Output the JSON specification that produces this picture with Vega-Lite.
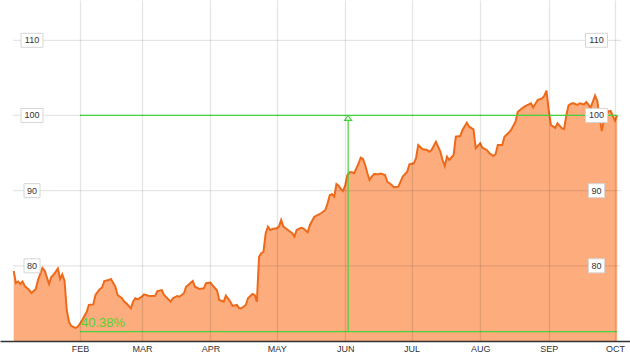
{
  "$schema": "https://vega.github.io/schema/vega-lite/v6.json",
  "width": 630,
  "height": 341,
  "padding": {"left": 0, "top": 0, "right": 0, "bottom": 19},
  "autosize": {"type": "none"},
  "config": {"view": {"stroke": null}, "font": "Liberation Sans"},
  "datasets": {
    "price": [
      {"date": "2013-01-02", "v": 79.31}, {"date": "2013-01-03", "v": 77.72}, {"date": "2013-01-04", "v": 77.92},
      {"date": "2013-01-05", "v": 77.58}, {"date": "2013-01-06", "v": 77.92}, {"date": "2013-01-07", "v": 77.32},
      {"date": "2013-01-09", "v": 76.78}, {"date": "2013-01-10", "v": 76.39}, {"date": "2013-01-12", "v": 76.92},
      {"date": "2013-01-13", "v": 78.11}, {"date": "2013-01-15", "v": 79.71}, {"date": "2013-01-16", "v": 79.38},
      {"date": "2013-01-18", "v": 77.58}, {"date": "2013-01-19", "v": 78.51}, {"date": "2013-01-20", "v": 78.78},
      {"date": "2013-01-22", "v": 79.65}, {"date": "2013-01-23", "v": 78.25}, {"date": "2013-01-24", "v": 78.85},
      {"date": "2013-01-25", "v": 77.98}, {"date": "2013-01-26", "v": 74.12}, {"date": "2013-01-27", "v": 72.57},
      {"date": "2013-01-28", "v": 72.0}, {"date": "2013-01-30", "v": 71.73}, {"date": "2013-01-31", "v": 71.9},
      {"date": "2013-02-01", "v": 72.33}, {"date": "2013-02-02", "v": 72.79}, {"date": "2013-02-04", "v": 73.86},
      {"date": "2013-02-05", "v": 74.79}, {"date": "2013-02-07", "v": 74.86}, {"date": "2013-02-08", "v": 76.12},
      {"date": "2013-02-10", "v": 76.92}, {"date": "2013-02-11", "v": 77.12}, {"date": "2013-02-12", "v": 77.98},
      {"date": "2013-02-14", "v": 78.11}, {"date": "2013-02-15", "v": 78.25}, {"date": "2013-02-17", "v": 77.22},
      {"date": "2013-02-18", "v": 76.12}, {"date": "2013-02-20", "v": 75.68}, {"date": "2013-02-21", "v": 75.23},
      {"date": "2013-02-22", "v": 75.02}, {"date": "2013-02-24", "v": 74.35}, {"date": "2013-02-25", "v": 75.23},
      {"date": "2013-02-26", "v": 75.68}, {"date": "2013-02-27", "v": 75.55}, {"date": "2013-03-01", "v": 75.89},
      {"date": "2013-03-02", "v": 76.21}, {"date": "2013-03-04", "v": 76.03}, {"date": "2013-03-05", "v": 75.99},
      {"date": "2013-03-07", "v": 76.03}, {"date": "2013-03-08", "v": 76.65}, {"date": "2013-03-10", "v": 76.78},
      {"date": "2013-03-11", "v": 76.12}, {"date": "2013-03-14", "v": 75.23}, {"date": "2013-03-15", "v": 75.68},
      {"date": "2013-03-17", "v": 75.99}, {"date": "2013-03-18", "v": 75.89}, {"date": "2013-03-20", "v": 76.35},
      {"date": "2013-03-21", "v": 77.22}, {"date": "2013-03-24", "v": 77.98}, {"date": "2013-03-25", "v": 77.22},
      {"date": "2013-03-27", "v": 76.92}, {"date": "2013-03-29", "v": 77.01}, {"date": "2013-03-30", "v": 77.68},
      {"date": "2013-04-01", "v": 77.78}, {"date": "2013-04-02", "v": 77.38}, {"date": "2013-04-04", "v": 76.72},
      {"date": "2013-04-05", "v": 75.45}, {"date": "2013-04-07", "v": 75.23}, {"date": "2013-04-08", "v": 76.03},
      {"date": "2013-04-10", "v": 75.23}, {"date": "2013-04-11", "v": 74.66}, {"date": "2013-04-13", "v": 74.79},
      {"date": "2013-04-14", "v": 74.35}, {"date": "2013-04-15", "v": 74.35}, {"date": "2013-04-17", "v": 74.79},
      {"date": "2013-04-18", "v": 75.68}, {"date": "2013-04-20", "v": 76.25}, {"date": "2013-04-21", "v": 76.12},
      {"date": "2013-04-22", "v": 75.23}, {"date": "2013-04-23", "v": 81.21}, {"date": "2013-04-24", "v": 81.67},
      {"date": "2013-04-25", "v": 81.88}, {"date": "2013-04-26", "v": 84.33}, {"date": "2013-04-27", "v": 85.21},
      {"date": "2013-04-28", "v": 84.77}, {"date": "2013-04-29", "v": 84.9}, {"date": "2013-05-01", "v": 84.99},
      {"date": "2013-05-02", "v": 85.21}, {"date": "2013-05-03", "v": 86.1}, {"date": "2013-05-04", "v": 85.21},
      {"date": "2013-05-06", "v": 84.77}, {"date": "2013-05-08", "v": 84.33}, {"date": "2013-05-09", "v": 83.88},
      {"date": "2013-05-10", "v": 84.77}, {"date": "2013-05-12", "v": 85.07}, {"date": "2013-05-13", "v": 84.99},
      {"date": "2013-05-15", "v": 84.46}, {"date": "2013-05-16", "v": 85.43}, {"date": "2013-05-18", "v": 86.54},
      {"date": "2013-05-19", "v": 86.67}, {"date": "2013-05-21", "v": 86.99}, {"date": "2013-05-23", "v": 87.43},
      {"date": "2013-05-24", "v": 88.32}, {"date": "2013-05-25", "v": 89.42}, {"date": "2013-05-26", "v": 89.52},
      {"date": "2013-05-27", "v": 89.2}, {"date": "2013-05-28", "v": 90.88}, {"date": "2013-05-29", "v": 90.66},
      {"date": "2013-05-30", "v": 90.22}, {"date": "2013-05-31", "v": 89.95}, {"date": "2013-06-01", "v": 90.75},
      {"date": "2013-06-02", "v": 92.08}, {"date": "2013-06-03", "v": 92.44}, {"date": "2013-06-04", "v": 92.44},
      {"date": "2013-06-05", "v": 92.31}, {"date": "2013-06-07", "v": 93.64}, {"date": "2013-06-08", "v": 94.38},
      {"date": "2013-06-09", "v": 94.21}, {"date": "2013-06-10", "v": 93.41}, {"date": "2013-06-11", "v": 92.31},
      {"date": "2013-06-12", "v": 91.42}, {"date": "2013-06-13", "v": 91.86}, {"date": "2013-06-14", "v": 92.22},
      {"date": "2013-06-16", "v": 92.18}, {"date": "2013-06-17", "v": 92.26}, {"date": "2013-06-19", "v": 92.08},
      {"date": "2013-06-20", "v": 91.19}, {"date": "2013-06-21", "v": 90.98}, {"date": "2013-06-22", "v": 90.75},
      {"date": "2013-06-23", "v": 90.45}, {"date": "2013-06-25", "v": 90.53}, {"date": "2013-06-26", "v": 91.19},
      {"date": "2013-06-27", "v": 91.86}, {"date": "2013-06-29", "v": 92.52}, {"date": "2013-06-30", "v": 93.51},
      {"date": "2013-07-02", "v": 93.64}, {"date": "2013-07-03", "v": 94.31}, {"date": "2013-07-04", "v": 96.07},
      {"date": "2013-07-06", "v": 95.5}, {"date": "2013-07-08", "v": 95.41}, {"date": "2013-07-09", "v": 95.18},
      {"date": "2013-07-10", "v": 95.41}, {"date": "2013-07-12", "v": 96.51}, {"date": "2013-07-13", "v": 95.85},
      {"date": "2013-07-14", "v": 95.18}, {"date": "2013-07-15", "v": 94.08}, {"date": "2013-07-16", "v": 93.28},
      {"date": "2013-07-17", "v": 94.52}, {"date": "2013-07-18", "v": 94.08}, {"date": "2013-07-20", "v": 94.74},
      {"date": "2013-07-21", "v": 97.18}, {"date": "2013-07-23", "v": 97.27}, {"date": "2013-07-24", "v": 98.07},
      {"date": "2013-07-26", "v": 99.04}, {"date": "2013-07-27", "v": 98.51}, {"date": "2013-07-29", "v": 98.16},
      {"date": "2013-07-30", "v": 95.64}, {"date": "2013-08-01", "v": 96.3}, {"date": "2013-08-02", "v": 95.71},
      {"date": "2013-08-04", "v": 95.41}, {"date": "2013-08-05", "v": 95.05}, {"date": "2013-08-07", "v": 94.61},
      {"date": "2013-08-08", "v": 94.88}, {"date": "2013-08-09", "v": 96.07}, {"date": "2013-08-11", "v": 96.07},
      {"date": "2013-08-12", "v": 97.18}, {"date": "2013-08-14", "v": 97.73}, {"date": "2013-08-15", "v": 98.07},
      {"date": "2013-08-17", "v": 99.17}, {"date": "2013-08-18", "v": 100.46}, {"date": "2013-08-19", "v": 100.73},
      {"date": "2013-08-21", "v": 101.17}, {"date": "2013-08-24", "v": 101.62}, {"date": "2013-08-25", "v": 101.06},
      {"date": "2013-08-27", "v": 102.06}, {"date": "2013-08-29", "v": 102.26}, {"date": "2013-08-30", "v": 102.59},
      {"date": "2013-08-31", "v": 103.32}, {"date": "2013-09-01", "v": 100.73}, {"date": "2013-09-02", "v": 98.73},
      {"date": "2013-09-04", "v": 98.34}, {"date": "2013-09-05", "v": 98.96}, {"date": "2013-09-07", "v": 98.27},
      {"date": "2013-09-08", "v": 98.2}, {"date": "2013-09-09", "v": 100.07}, {"date": "2013-09-10", "v": 101.33},
      {"date": "2013-09-11", "v": 101.53}, {"date": "2013-09-12", "v": 101.66}, {"date": "2013-09-14", "v": 101.4},
      {"date": "2013-09-15", "v": 101.62}, {"date": "2013-09-17", "v": 101.46}, {"date": "2013-09-18", "v": 101.79},
      {"date": "2013-09-20", "v": 101.06}, {"date": "2013-09-22", "v": 102.66}, {"date": "2013-09-23", "v": 101.93},
      {"date": "2013-09-25", "v": 97.94}, {"date": "2013-09-26", "v": 99.4}, {"date": "2013-09-28", "v": 100.53},
      {"date": "2013-09-29", "v": 100.6}, {"date": "2013-10-01", "v": 99.33}, {"date": "2013-10-02", "v": 100.0}
    ],
    "ylabels": [{"v": 80}, {"v": 90}, {"v": 100}, {"v": 110}],
    "ann": [{"start": "2013-02-01", "end": "2013-10-02", "low": 71.24, "high": 100, "mark": "2013-06-02T07:00:00Z", "label": "40.38%"}]
  },
  "layer": [
    {
      "data": {"name": "price"},
      "mark": {"type": "area", "color": "#FCAC7D", "opacity": 1, "clip": true},
      "encoding": {
        "x": {
          "field": "date", "type": "temporal", "title": null,
          "scale": {"type": "utc", "domain": [
            {"year": 2012, "month": 12, "date": 26, "hours": 19, "minutes": 26, "utc": true},
            {"year": 2013, "month": 10, "date": 7, "hours": 19, "utc": true}
          ]},
          "axis": {
            "title": null,
            "values": [
              {"year": 2013, "month": 2, "date": 1, "utc": true},
              {"year": 2013, "month": 3, "date": 1, "utc": true},
              {"year": 2013, "month": 4, "date": 1, "utc": true},
              {"year": 2013, "month": 5, "date": 1, "utc": true},
              {"year": 2013, "month": 6, "date": 1, "utc": true},
              {"year": 2013, "month": 7, "date": 1, "utc": true},
              {"year": 2013, "month": 8, "date": 1, "utc": true},
              {"year": 2013, "month": 9, "date": 1, "utc": true},
              {"year": 2013, "month": 10, "date": 1, "utc": true}
            ],
            "labelExpr": "upper(utcFormat(datum.value, '%b'))",
            "grid": true, "gridColor": "#000000", "gridOpacity": 0.1, "gridWidth": 1.3,
            "ticks": false, "tickSize": 0,
            "domainColor": "#333333", "domainWidth": 1.5,
            "labelFontSize": 9, "labelColor": "#333333", "labelPadding": 3,
            "labelFont": "Liberation Sans",
            "zindex": 1
          }
        },
        "y": {"field": "v", "type": "quantitative", "scale": {"domain": [70, 115.36], "nice": false, "zero": false}, "axis": null},
        "y2": {"datum": 70}
      }
    },
    {
      "data": {"name": "ylabels"},
      "mark": {"type": "rule", "color": "#000000", "opacity": 0.1, "strokeWidth": 1.3},
      "encoding": {
        "x": {"datum": {"year": 2013, "month": 1, "date": 1, "hours": 17, "utc": true}, "type": "temporal", "title": null},
        "x2": {"datum": {"year": 2013, "month": 10, "date": 3, "hours": 17, "utc": true}},
        "y": {"field": "v", "type": "quantitative", "axis": null}
      }
    },
    {
      "data": {"name": "price"},
      "mark": {"type": "line", "color": "#EE6A1A", "strokeWidth": 2},
      "encoding": {
        "x": {"field": "date", "type": "temporal", "title": null},
        "y": {"field": "v", "type": "quantitative", "axis": null}
      }
    },
    {
      "data": {"name": "ann"},
      "mark": {"type": "rule", "color": "#46D33C", "strokeWidth": 1.2},
      "encoding": {
        "x": {"field": "start", "type": "temporal", "title": null},
        "x2": {"field": "end"},
        "y": {"field": "high", "type": "quantitative", "axis": null}
      }
    },
    {
      "data": {"name": "ann"},
      "mark": {"type": "rule", "color": "#46D33C", "strokeWidth": 1.2},
      "encoding": {
        "x": {"field": "start", "type": "temporal", "title": null},
        "x2": {"field": "end"},
        "y": {"field": "low", "type": "quantitative", "axis": null}
      }
    },
    {
      "data": {"name": "ann"},
      "mark": {"type": "rule", "color": "#46D33C", "strokeWidth": 1.2},
      "encoding": {
        "x": {"field": "mark", "type": "temporal", "title": null},
        "y": {"field": "low", "type": "quantitative", "axis": null},
        "y2": {"field": "high"}
      }
    },
    {
      "data": {"name": "ann"},
      "mark": {"type": "point", "shape": "M0,0L0.7,1L-0.7,1Z", "size": 100, "filled": true, "fill": "#ffffff", "stroke": "#46D33C", "strokeWidth": 1.2, "opacity": 1},
      "encoding": {
        "x": {"field": "mark", "type": "temporal", "title": null},
        "y": {"field": "high", "type": "quantitative", "axis": null}
      }
    },
    {
      "data": {"name": "ann"},
      "mark": {"type": "text", "align": "left", "baseline": "alphabetic", "dx": 1, "dy": -5, "fontSize": 13, "color": "#55D42F", "font": "Liberation Sans"},
      "encoding": {
        "x": {"field": "start", "type": "temporal", "title": null},
        "y": {"field": "low", "type": "quantitative", "axis": null},
        "text": {"field": "label"}
      }
    },
    {
      "data": {"name": "ylabels"},
      "mark": {"type": "point", "filled": true, "fill": "#ffffff", "stroke": "#d6d6d6", "strokeWidth": 1, "opacity": 1, "size": 484},
      "encoding": {
        "x": {"datum": {"year": 2013, "month": 1, "date": 10, "hours": 7, "utc": true}, "type": "temporal", "title": null},
        "y": {"field": "v", "type": "quantitative", "axis": null},
        "shape": {"condition": {"test": "datum.v >= 100", "value": "M-1,-0.636H1V0.636H-1Z"}, "value": "M-0.727,-0.636H0.727V0.636H-0.727Z"}
      }
    },
    {
      "data": {"name": "ylabels"},
      "mark": {"type": "point", "filled": true, "fill": "#ffffff", "stroke": "#d6d6d6", "strokeWidth": 1, "opacity": 1, "size": 484},
      "encoding": {
        "x": {"datum": {"year": 2013, "month": 9, "date": 22, "hours": 15, "minutes": 20, "utc": true}, "type": "temporal", "title": null},
        "y": {"field": "v", "type": "quantitative", "axis": null},
        "shape": {"condition": {"test": "datum.v >= 100", "value": "M-1,-0.636H1V0.636H-1Z"}, "value": "M-0.727,-0.636H0.727V0.636H-0.727Z"}
      }
    },
    {
      "data": {"name": "ylabels"},
      "mark": {"type": "text", "align": "center", "baseline": "middle", "fontSize": 9, "color": "#333333", "font": "Liberation Sans"},
      "encoding": {
        "x": {"datum": {"year": 2013, "month": 1, "date": 10, "hours": 7, "utc": true}, "type": "temporal", "title": null},
        "y": {"field": "v", "type": "quantitative", "axis": null},
        "text": {"field": "v", "type": "quantitative"}
      }
    },
    {
      "data": {"name": "ylabels"},
      "mark": {"type": "text", "align": "center", "baseline": "middle", "fontSize": 9, "color": "#333333", "font": "Liberation Sans"},
      "encoding": {
        "x": {"datum": {"year": 2013, "month": 9, "date": 22, "hours": 15, "minutes": 20, "utc": true}, "type": "temporal", "title": null},
        "y": {"field": "v", "type": "quantitative", "axis": null},
        "text": {"field": "v", "type": "quantitative"}
      }
    }
  ]
}
